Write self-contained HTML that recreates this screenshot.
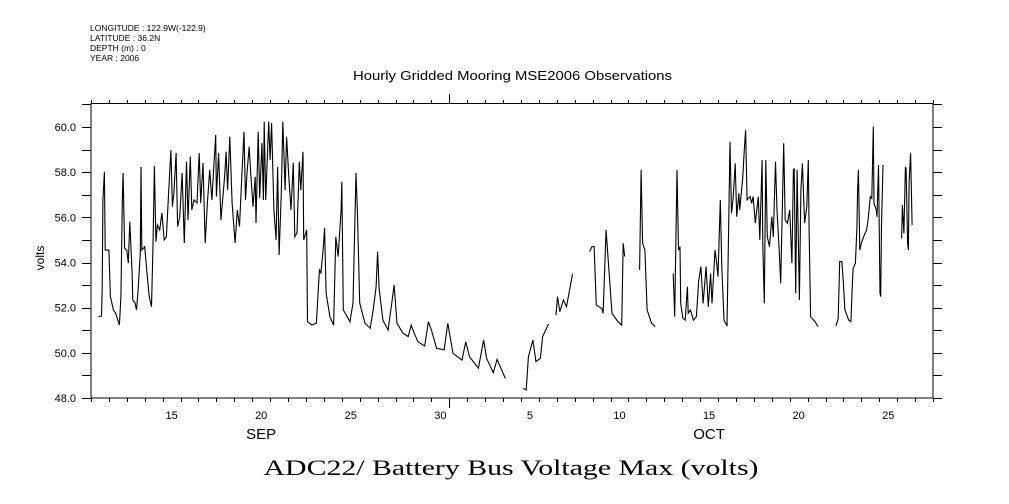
<!DOCTYPE html>
<html><head><meta charset="utf-8"><style>
html,body{margin:0;padding:0;background:#fff;}
svg{display:block;}
text{font-family:"Liberation Sans",sans-serif;fill:#000;}
</style></head><body>
<svg id="chart" width="1009" height="504" viewBox="0 0 1009 504" xmlns="http://www.w3.org/2000/svg">
<g font-size="8.5">
<text x="90" y="31">LONGITUDE : 122.9W(-122.9)</text>
<text x="90" y="41">LATITUDE : 36.2N</text>
<text x="90" y="51">DEPTH (m) : 0</text>
<text x="90" y="61">YEAR : 2006</text>
</g>
<text x="353" y="80" font-size="12.5" textLength="319" lengthAdjust="spacingAndGlyphs">Hourly Gridded Mooring MSE2006 Observations</text>
<text x="0" y="0" font-size="12" transform="translate(44,258) rotate(-90)" text-anchor="middle">volts</text>
<text x="511" y="475" font-size="22" text-anchor="middle" style="font-family:'Liberation Serif',serif" textLength="495" lengthAdjust="spacingAndGlyphs">ADC22/ Battery Bus Voltage Max (volts)</text>
<rect x="91" y="103.5" width="842" height="294.5" fill="none" stroke="#000" stroke-width="1"/>
<g id="axes"></g>
<g id="series"></g>
</svg>
<script>
// time: hours since 2006-09-11 00:00; null marks a data gap
const hours = [10,14,15,16,18,19,24,26,30,33,38,40,42,43,45,48,50,52,55,56,59,61,63,66,67,68,72,75,78,81,83,85,87,89,92,95,98,101,104,107,109,111,114,116,119,122,125,128,130,133,135,138,142,145,147,150,153,156,159,162,165,167,168,171,174,176,179,181,183,186,189,193,196,199,202,205,207,209,212,214,217,220,221,224,226,229,231,232,234,238,240,242,245,248,250,252,255,257,260,262,265,268,271,273,276,279,281,284,285,289,290,296,302,306,308,311,313,315,320,325,328,331,335,336,338,347,351,355,357,360,367,374,378,382,384,386,391,398,403,406,410,418,425,429,432,438,447,452,456,463,473,478,485,497,502,507,519,526,530,539,544,555,null,
579,583,586,592,596,602,605,613,null,
623,625,628,633,637,645,null,
668,671,674,677,684,686,690,692,698,706,711,713,715,null,
735,737,739,742,745,751,756,null,
780,782,785,787,789,790,793,796,799,800,803,807,811,814,817,820,824,827,830,832,836,838,840,843,845,848,852,854,856,858,860,863,865,868,869,873,875,877,879,883,885,887,890,892,894,896,899,900,902,904,906,909,912,914,917,919,922,924,927,928,930,933,936,939,941,942,944,946,949,951,953,956,959,961,962,964,970,974,null,
998,1001,1003,1006,1008,1010,1015,1018,1020,1021,1024,1026,1027,1028,1030,1032,1036,1039,1041,1044,1046,1047,1048,1049,1052,1053,1055,1057,1058,1059,1061,null,
1086,1087,1089,1091,1092,1094,1095,1096,1098,1100];
const volts = [51.60,51.63,52.87,56.77,58.02,54.55,54.55,52.49,51.90,51.76,51.23,52.49,56.92,57.97,54.64,54.55,53.98,55.81,53.54,52.34,52.21,51.90,52.71,54.42,58.23,54.55,54.70,53.54,52.49,52.04,54.78,58.28,54.92,55.66,55.44,56.19,55.00,55.14,57.08,58.98,56.47,57.08,58.85,55.59,56.03,57.97,54.86,58.47,55.88,58.69,56.33,56.77,56.64,58.85,56.64,58.41,54.86,56.64,58.10,56.77,58.54,59.65,56.92,58.85,55.88,56.64,57.80,58.91,57.21,59.57,56.64,54.86,56.33,55.59,57.80,59.79,56.77,57.97,59.13,57.97,56.47,57.80,55.75,59.79,56.86,59.29,56.77,60.24,56.77,60.24,58.54,60.18,56.33,55.00,58.24,54.33,57.08,60.24,57.21,59.57,57.80,56.33,58.41,55.14,55.31,58.47,57.21,58.91,55.00,55.44,51.38,51.23,51.32,53.67,53.54,54.55,55.52,52.65,51.60,51.23,55.14,54.26,56.33,57.58,51.90,51.38,52.21,57.97,56.10,52.21,51.32,51.09,51.90,52.93,54.48,52.86,51.45,51.01,52.21,53.00,51.31,50.87,50.72,51.23,50.94,50.49,50.30,51.38,51.01,50.20,50.13,51.31,49.98,49.68,50.49,49.83,49.32,50.57,49.76,49.12,49.71,48.87,null,
48.43,48.35,49.83,50.57,49.61,49.76,50.72,51.28,null,
51.68,52.49,51.82,52.34,52.04,53.49,null,
54.48,54.70,54.70,52.12,51.97,51.75,55.44,54.55,51.75,51.38,51.23,54.85,54.26,null,
53.67,58.10,54.85,54.55,51.90,51.31,51.16,null,
53.52,51.60,58.10,54.55,54.70,52.19,51.53,51.45,52.93,51.75,51.90,51.45,51.60,53.15,53.82,52.19,53.82,52.04,53.52,52.19,54.55,54.04,53.37,56.77,53.82,51.45,51.19,55.14,59.35,56.18,56.77,58.39,56.03,57.07,56.33,57.73,58.84,59.87,56.77,56.92,56.62,56.92,55.74,56.33,56.92,55.00,58.54,54.85,52.19,58.54,55.14,54.70,56.03,55.14,58.47,56.33,54.55,53.08,57.80,59.28,55.88,55.74,56.33,53.97,58.10,58.17,52.64,58.10,52.34,57.21,58.39,55.74,56.47,58.54,55.44,51.60,51.38,51.16,null,
51.19,51.53,54.04,54.04,53.08,51.90,51.45,51.38,53.08,53.74,53.97,55.52,57.21,58.10,54.55,54.85,55.22,55.44,55.88,56.92,56.84,58.32,60.02,56.62,56.33,56.03,58.32,52.64,52.49,55.66,58.32,null,
55.07,56.55,55.29,58.24,58.17,54.85,54.55,57.58,58.84,55.66];
const yTickValues = [48,50,52,54,56,58,60];
const yTickLabels = ["48.0","50.0","52.0","54.0","56.0","58.0","60.0"];
const dayLabelDays = [15,20,25,30,5,10,15,20,25];
const dayLabelOffsets = [4,9,14,19,24,29,34,39,44]; // days since Sep 11
const monthLabels = ["SEP","OCT"];
const monthLabelOffsets = [9,34];

const X0=91, X1=933, TMAX=47*24, Y0=398, VMIN=48, PXV=22.58;
function xs(h){return X0+(h/TMAX)*(X1-X0);}
function ys(v){return Y0-(v-VMIN)*PXV;}
const NS="http://www.w3.org/2000/svg";
const axes=document.getElementById('axes');
function line(x1,y1,x2,y2){const l=document.createElementNS(NS,'line');l.setAttribute('x1',x1);l.setAttribute('y1',y1);l.setAttribute('x2',x2);l.setAttribute('y2',y2);l.setAttribute('stroke','#000');l.setAttribute('stroke-width','1');return l;}
function txt(x,y,s,size,anchor){const t=document.createElementNS(NS,'text');t.setAttribute('x',x);t.setAttribute('y',y);t.setAttribute('font-size',size);t.setAttribute('text-anchor',anchor);t.textContent=s;return t;}
// x ticks each day
for(let d=0; d<=47; d++){
  const x=Math.round(xs(d*24))+0.5;
  const big=(d===20);
  const tb=line(x,398,x,big?408:402);
  
  
  axes.appendChild(tb);
  const tt=line(x,103.5,x,big?94:100);
  
  
  axes.appendChild(tt);
}
// y ticks each volt
for(let v=48; v<=61; v++){
  const y=Math.round(ys(v))+0.5;
  const tl=line(82,y,91,y);
  
  
  axes.appendChild(tl);
  const tr=line(933,y,942,y);
  
  
  axes.appendChild(tr);
}
yTickValues.forEach((v,i)=>{
  const t=txt(76,ys(v)+4,yTickLabels[i],11,'end');
  
  
  axes.appendChild(t);
});
dayLabelDays.forEach((d,i)=>{
  const t=txt(xs((dayLabelOffsets[i]+0.5)*24),419,String(d),11,'middle');
  
  
  axes.appendChild(t);
});
monthLabels.forEach((m,i)=>{
  const t=txt(xs((monthLabelOffsets[i]+0.5)*24),439,m,15,'middle');
  
  
  axes.appendChild(t);
});
// series
let d='', pen=false;
for(let i=0;i<hours.length;i++){
  if(hours[i]===null||volts[i]===null){pen=false;continue;}
  d+=(pen?'L':'M')+xs(hours[i]).toFixed(1)+' '+ys(volts[i]).toFixed(1);
  pen=true;
}
const p=document.createElementNS(NS,'path');
p.setAttribute('d',d);p.setAttribute('fill','none');p.setAttribute('stroke','#000');p.setAttribute('stroke-width','1.1');


document.getElementById('series').appendChild(p);
</script>
</body></html>
